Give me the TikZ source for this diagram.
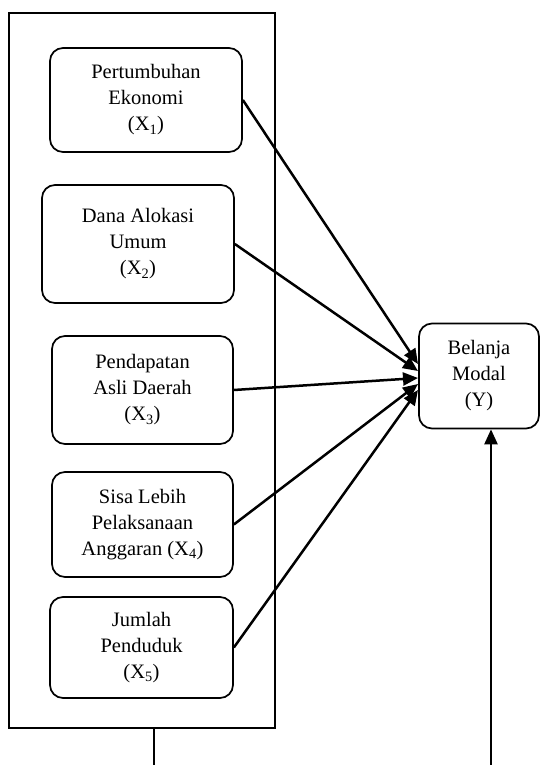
\documentclass[tikz,border=0pt]{standalone}
\usepackage{fontspec}
\setmainfont{Liberation Serif}
\usetikzlibrary{arrows.meta}
\begin{document}
\begin{tikzpicture}[x=1pt,y=-1pt,
  var/.style={draw,line width=1.7pt,rounded corners=13pt,align=center,inner sep=0pt,
    font=\fontsize{20.5}{26}\selectfont},
  frame/.style={draw,line width=1.6pt,inner sep=0pt},
  arr/.style={line width=2.5pt,-{Triangle[length=15pt,width=13pt]}}]
\useasboundingbox (0,0) rectangle (540,765);
\node[frame,minimum width=266pt,minimum height=715pt] (outer) at (142,370.5) {};
\node[var,minimum width=192pt,minimum height=104pt] (x1) at (146,100) {Pertumbuhan\\Ekonomi\\(X\textsubscript{1})};
\node[var,minimum width=192pt,minimum height=118pt] (x2) at (138,244) {Dana Alokasi\\Umum\\(X\textsubscript{2})};
\node[var,minimum width=181pt,minimum height=108pt] (x3) at (142.5,390) {Pendapatan\\Asli Daerah\\(X\textsubscript{3})};
\node[var,minimum width=181pt,minimum height=105pt] (x4) at (142.5,524.5) {Sisa Lebih\\Pelaksanaan\\Anggaran (X\textsubscript{4})};
\node[var,minimum width=183pt,minimum height=101pt] (x5) at (141.5,647.5) {Jumlah\\Penduduk\\(X\textsubscript{5})};
\node[var,minimum width=120pt,minimum height=105pt] (y) at (479,376) {Belanja\\Modal\\(Y)};
\coordinate (t1) at (418,364);
\coordinate (t2) at (418,371);
\coordinate (t3) at (418,378);
\coordinate (t4) at (418,384);
\coordinate (t5) at (418,390);
\draw[arr] (x1.east) -- (t1);
\draw[arr] (x2.east) -- (t2);
\draw[arr] (x3.east) -- (t3);
\draw[arr] (x4.east) -- (t4);
\draw[arr] (x5.east) -- (t5);
\coordinate (b1) at (154,728);
\coordinate (b1e) at (154,766);
\coordinate (b2) at (491,766);
\draw[line width=1.6pt] (b1) -- (b1e);
\draw[arr] (b2) -- (b2 |- y.south);
\end{tikzpicture}
\end{document}
